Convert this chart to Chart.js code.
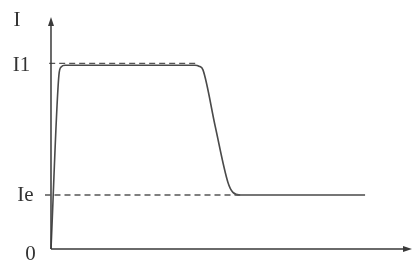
<!DOCTYPE html>
<html>
<head>
<meta charset="utf-8">
<script src="https://cdn.jsdelivr.net/npm/chart.js@4.4.0/dist/chart.umd.min.js"></script>
<style>
  html, body { margin: 0; padding: 0; background: #fff; }
  #wrap { width: 414px; height: 274px; }
</style>
</head>
<body>
<div id="wrap"><canvas id="chartCanvas"></canvas></div>
<script>
// current curve I(t) (I1 = 1)
var curveX = [0, 2.2, 2.8, 3.9, 10, 25, 39.9, 41.0, 42.1, 45.5, 49.0, 50.4, 52.4, 60, 75, 87.0];
var curveY = [0, 0.938, 0.981, 0.99, 0.99, 0.99, 0.99, 0.985, 0.965, 0.66, 0.36, 0.305, 0.291, 0.291, 0.291, 0.291];

// reference levels (dashed), start slightly left of the axis
var levelI1 = 1.0;
var levelIe = 0.291;
var levelI1Span = [-0.5, 41];
var levelIeSpan = [-1.8, 52.4];

// axis labels
var yTickValues = [0, levelIe, levelI1, 1.25];
var yTickLabels = ['0', 'Ie', 'I1', 'I'];

var xMin = -1.66, xMax = 100, yMax = 1.25;

var curveData = curveX.map(function (x, i) { return { x: x, y: curveY[i] }; });

var axesPlugin = {
    id: 'axesPlugin',
    afterDraw: function (chart) {
        var ctx = chart.ctx;
        var xs = chart.scales.x, ys = chart.scales.y;
        var x0 = xs.getPixelForValue(0), y0 = ys.getPixelForValue(0);
        var xEnd = xs.getPixelForValue(xMax), yTop = ys.getPixelForValue(yMax);
        ctx.save();
        ctx.strokeStyle = '#3a3a3a';
        ctx.fillStyle = '#3a3a3a';
        ctx.lineWidth = 1.5;
        ctx.beginPath();
        ctx.moveTo(x0, y0); ctx.lineTo(x0, yTop + 4);
        ctx.moveTo(x0, y0); ctx.lineTo(xEnd - 4, y0);
        ctx.stroke();
        // arrow heads
        ctx.beginPath();
        ctx.moveTo(x0, yTop); ctx.lineTo(x0 - 3, yTop + 9); ctx.lineTo(x0 + 3, yTop + 9);
        ctx.closePath(); ctx.fill();
        ctx.beginPath();
        ctx.moveTo(xEnd, y0); ctx.lineTo(xEnd - 9, y0 - 3); ctx.lineTo(xEnd - 9, y0 + 3);
        ctx.closePath(); ctx.fill();

        // tick labels
        var offsets = [[-20.5, 5], [-25.5, 0], [-29.5, 2.5], [-34, 3]];
        ctx.font = '21px "Liberation Serif", "DejaVu Serif", serif';
        ctx.fillStyle = '#333';
        ctx.textAlign = 'center';
        ctx.textBaseline = 'middle';
        yTickValues.forEach(function (v, i) {
            var o = offsets[i];
            ctx.fillText(yTickLabels[i], x0 + o[0], ys.getPixelForValue(v) + o[1]);
        });
        ctx.restore();
    }
};

new Chart('chartCanvas', {
    type: 'line',
    data: {
        datasets: [
            {
                label: 'I1',
                data: [{ x: levelI1Span[0], y: levelI1 }, { x: levelI1Span[1], y: levelI1 }],
                borderColor: '#555',
                borderWidth: 1.3,
                borderDash: [6, 4],
                pointRadius: 0
            },
            {
                label: 'Ie',
                data: [{ x: levelIeSpan[0], y: levelIe }, { x: levelIeSpan[1], y: levelIe }],
                borderColor: '#555',
                borderWidth: 1.3,
                borderDash: [6, 4],
                pointRadius: 0
            },
            {
                label: 'I',
                data: curveData,
                borderColor: '#4a4a4a',
                borderWidth: 1.6,
                cubicInterpolationMode: 'monotone',
                pointRadius: 0
            }
        ]
    },
    options: {
        responsive: true,
        maintainAspectRatio: false,
        animation: false,
        layout: { padding: { left: 45, right: 2, top: 17, bottom: 25 } },
        plugins: { legend: { display: false }, tooltip: { enabled: false } },
        scales: {
            x: { type: 'linear', min: xMin, max: xMax, display: false },
            y: { type: 'linear', min: 0, max: yMax, display: false }
        }
    },
    plugins: [axesPlugin]
});
</script>
</body>
</html>
